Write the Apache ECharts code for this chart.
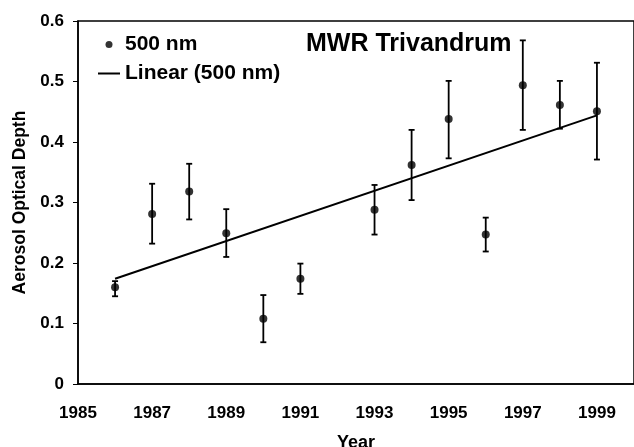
<!DOCTYPE html>
<html>
<head>
<meta charset="utf-8">
<script src="https://cdn.jsdelivr.net/npm/echarts@6/dist/echarts.min.js"></script>
<style>
html,body{margin:0;padding:0;background:#fff;}
#c{width:634px;height:447px;}
</style>
</head>
<body>
<div id="c"></div>
<script>
var years = [1986, 1987, 1988, 1989, 1990, 1991, 1993, 1994, 1995, 1996, 1997, 1998, 1999];
var aod500 = [0.160, 0.281, 0.318, 0.249, 0.108, 0.174, 0.288, 0.362, 0.438, 0.247, 0.494, 0.461, 0.451];
var errLow = [0.145, 0.232, 0.272, 0.210, 0.069, 0.149, 0.247, 0.304, 0.373, 0.219, 0.420, 0.422, 0.371];
var errHigh = [0.170, 0.331, 0.364, 0.289, 0.147, 0.199, 0.329, 0.420, 0.501, 0.275, 0.568, 0.501, 0.531];
var trendYears = [1986, 1999];
var trendValues = [0.174, 0.444];
var xStartYear = 1985;
var xEndYear = 2000;
var yTicks = [0, 0.1, 0.2, 0.3, 0.4, 0.5, 0.6];

var FONT = 'Liberation Sans';
var off = function (y) { return y - xStartYear; };

var pts = years.map(function (y, i) { return [off(y), aod500[i]]; });
var errs = years.map(function (y, i) { return [off(y), errLow[i], errHigh[i]]; });
var trend = trendYears.map(function (y, i) { return [off(y), trendValues[i]]; });

var chart = echarts.init(document.getElementById('c'));
chart.setOption({
  animation: false,
  backgroundColor: '#fff',
  textStyle: { fontFamily: FONT, color: '#000' },
  title: {
    text: 'MWR Trivandrum',
    left: 306, top: 32, padding: 0,
    textStyle: { fontFamily: FONT, fontSize: 25, fontWeight: 'bold', color: '#000' }
  },
  legend: {
    orient: 'vertical',
    left: 97, top: 34, padding: 0,
    itemGap: 8, itemWidth: 22, itemHeight: 7,
    textStyle: { fontFamily: FONT, fontSize: 21, fontWeight: 'bold', color: '#000' },
    data: [
      { name: '500 nm', icon: 'circle' },
      { name: 'Linear (500 nm)', itemStyle: { opacity: 0 } }
    ]
  },
  grid: {
    left: 78, right: 0, top: 21, bottom: 63,
    outerBoundsMode: 'none', containLabel: false,
    show: true, borderColor: '#000', borderWidth: 1.5
  },
  xAxis: {
    type: 'value', min: 0, max: off(xEndYear), interval: 2,
    name: 'Year', nameLocation: 'middle', nameGap: 50,
    nameTextStyle: { fontFamily: FONT, fontSize: 18, fontWeight: 'bold', color: '#000' },
    axisLine: { show: true, lineStyle: { color: '#000', width: 1.5 } },
    axisTick: { show: false },
    splitLine: { show: false },
    axisLabel: {
      margin: 21, fontFamily: FONT, fontSize: 17, fontWeight: 'bold', color: '#000',
      showMaxLabel: false,
      formatter: function (v) { return String(v + xStartYear); }
    }
  },
  yAxis: {
    type: 'value', min: yTicks[0], max: yTicks[yTicks.length - 1], interval: 0.1,
    name: 'Aerosol Optical Depth', nameLocation: 'middle', nameGap: 48,
    nameTextStyle: { fontFamily: FONT, fontSize: 17.5, fontWeight: 'bold', color: '#000' },
    axisLine: { show: true, lineStyle: { color: '#000', width: 1.5 } },
    axisTick: { show: true, inside: false, length: 5, lineStyle: { color: '#000', width: 1 } },
    splitLine: { show: false },
    axisLabel: { margin: 14, fontFamily: FONT, fontSize: 17, fontWeight: 'bold', color: '#000' }
  },
  series: [
    {
      name: 'Linear (500 nm)', type: 'line', data: trend,
      symbol: 'none', showSymbol: false, z: 3,
      lineStyle: { color: '#000', width: 2 },
      itemStyle: { color: '#000' }
    },
    {
      name: 'errorbars', type: 'custom', data: errs, z: 4,
      renderItem: function (params, api) {
        var x = api.value(0);
        var lo = api.coord([x, api.value(1)]);
        var hi = api.coord([x, api.value(2)]);
        var hw = 3;
        var st = { stroke: '#000', lineWidth: 1.8 };
        return {
          type: 'group',
          children: [
            { type: 'line', shape: { x1: lo[0], y1: lo[1], x2: hi[0], y2: hi[1] }, style: st },
            { type: 'line', shape: { x1: lo[0] - hw, y1: lo[1], x2: lo[0] + hw, y2: lo[1] }, style: st },
            { type: 'line', shape: { x1: hi[0] - hw, y1: hi[1], x2: hi[0] + hw, y2: hi[1] }, style: st }
          ]
        };
      }
    },
    {
      name: '500 nm', type: 'scatter', data: pts, z: 5,
      symbol: 'circle', symbolSize: 8,
      itemStyle: { color: '#000' }
    }
  ]
});
</script>
</body>
</html>
